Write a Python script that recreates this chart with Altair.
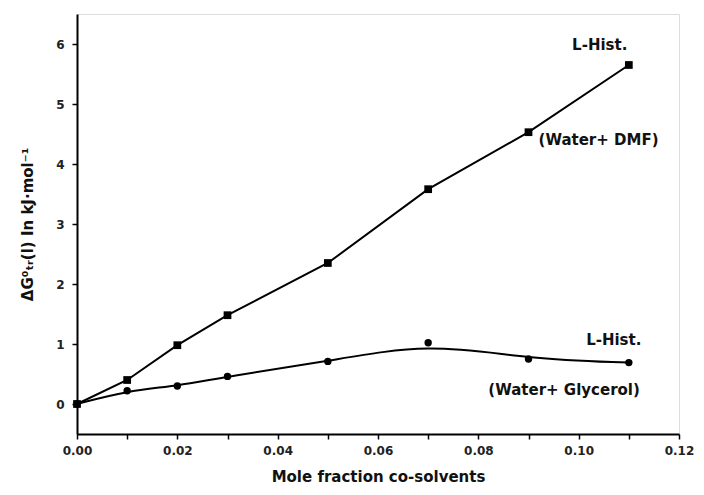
import altair as alt
import pandas as pd

# Data
mole_fraction = [0.00, 0.01, 0.02, 0.03, 0.05, 0.07, 0.09, 0.11]
dmf_values = [0.00, 0.40, 0.98, 1.48, 2.35, 3.58, 4.53, 5.65]
glycerol_values = [0.00, 0.22, 0.30, 0.46, 0.71, 1.02, 0.75, 0.69]

x_ticks = [round(i * 0.01, 2) for i in range(13)]
y_ticks = [i * 0.5 for i in range(14)]

ann_text = ["L-Hist.", "(Water+ DMF)", "L-Hist.", "(Water+ Glycerol)"]
ann_x = [0.1042, 0.092, 0.107, 0.0971]
ann_y = [5.98, 4.40, 1.07, 0.23]
ann_align = ["center", "left", "center", "center"]

dmf_df = pd.DataFrame({"x": mole_fraction, "y": dmf_values})
gly_df = pd.DataFrame({"x": mole_fraction, "y": glycerol_values})
ann_df = pd.DataFrame({"x": ann_x, "y": ann_y, "t": ann_text, "a": ann_align})

FONT = "DejaVu Sans"

xs = alt.Scale(domain=[0, 0.12], nice=False, zero=False)
ys = alt.Scale(domain=[-0.5, 6.5], nice=False, zero=False)

x_axis = alt.Axis(
    values=x_ticks,
    labelExpr="round(datum.value*100) % 2 == 0 ? format(datum.value, '.2f') : ''",
    title="Mole fraction co-solvents",
    grid=False, tickSize=5, tickWidth=1.5, tickColor="black",
    domainColor="black", domainWidth=2,
    labelFont=FONT, labelFontWeight="bold", labelFontSize=12, labelColor="#222",
    labelPadding=6, labelFlush=False,
    titleFont=FONT, titleFontWeight="bold", titleFontSize=15, titleColor="#111",
    titlePadding=13,
)
y_axis = alt.Axis(
    values=y_ticks,
    labelExpr="datum.value % 1 == 0 ? format(datum.value, 'd') : ''",
    title="ΔG⁰ₜᵣ(l) In kJ·mol⁻¹",
    grid=False, tickSize=5, tickWidth=1.5, tickColor="black",
    domainColor="black", domainWidth=2,
    labelFont=FONT, labelFontWeight="bold", labelFontSize=12, labelColor="#222",
    labelPadding=8, labelFlush=False,
    titleFont=FONT, titleFontWeight="bold", titleFontSize=15, titleColor="#111",
    titlePadding=20,
)

dmf_line = alt.Chart(dmf_df).mark_line(color="black", strokeWidth=2).encode(
    x=alt.X("x:Q", scale=xs, axis=x_axis),
    y=alt.Y("y:Q", scale=ys, axis=y_axis),
)
dmf_pts = alt.Chart(dmf_df).mark_point(shape="square", filled=True, color="black", size=60, opacity=1).encode(
    x=alt.X("x:Q", scale=xs), y=alt.Y("y:Q", scale=ys)
)
gly_line = alt.Chart(gly_df).mark_line(color="black", strokeWidth=2, interpolate="basis").encode(
    x=alt.X("x:Q", scale=xs), y=alt.Y("y:Q", scale=ys)
)
gly_pts = alt.Chart(gly_df).mark_point(shape="circle", filled=True, color="black", size=55, opacity=1).encode(
    x=alt.X("x:Q", scale=xs), y=alt.Y("y:Q", scale=ys)
)

ann_center = alt.Chart(ann_df).transform_filter("datum.a == 'center'").mark_text(
    font=FONT, fontWeight="bold", fontSize=15, color="#111", align="center", baseline="middle"
).encode(x=alt.X("x:Q", scale=xs), y=alt.Y("y:Q", scale=ys), text="t:N")
ann_left = alt.Chart(ann_df).transform_filter("datum.a == 'left'").mark_text(
    font=FONT, fontWeight="bold", fontSize=15, color="#111", align="left", baseline="middle"
).encode(x=alt.X("x:Q", scale=xs), y=alt.Y("y:Q", scale=ys), text="t:N")

chart = alt.layer(dmf_line, gly_line, dmf_pts, gly_pts, ann_center, ann_left).properties(
    width=602, height=420,
    autosize=alt.AutoSizeParams(type="none"),
    padding={"left": 69, "top": 6, "right": 17, "bottom": 53},
).configure_view(stroke="#888", strokeWidth=1.5).configure(background="white")

chart.save("out.html", embed_options={"renderer": "svg", "actions": False})
